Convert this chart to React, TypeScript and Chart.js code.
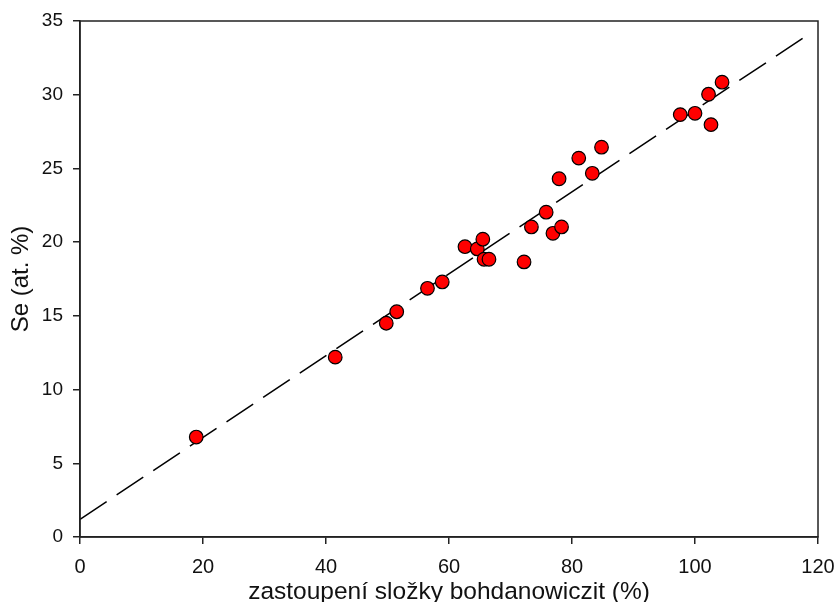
import React, { useEffect, useRef } from "react";
import { Chart, registerables } from "chart.js";

Chart.register(...registerables);

const bohdanowiczit: number[] = [18.9, 41.5, 49.8, 51.5, 56.5, 58.9, 62.6, 64.6, 65.5, 65.7, 66.5, 72.2, 73.4, 75.8, 76.9, 78.3, 77.9, 81.1, 83.3, 84.8, 97.6, 100.0, 102.2, 102.6, 104.4];
const selen: number[] = [6.78, 12.2, 14.5, 15.28, 16.87, 17.3, 19.69, 19.54, 20.2, 18.84, 18.84, 18.66, 21.03, 22.03, 20.6, 21.03, 24.3, 25.7, 24.67, 26.44, 28.65, 28.74, 30.03, 27.97, 30.85];
const fitX: number[] = [0, 118.5];
const fitY: number[] = [1.2, 34.1];
const xTicks: number[] = [0, 20, 40, 60, 80, 100, 120];
const yTicks: number[] = [0, 5, 10, 15, 20, 25, 30, 35];
const xTitle = "zastoupení složky bohdanowiczit (%)";
const yTitle = "Se (at. %)";

const FONT = "'Liberation Sans', Arial, sans-serif";

const frame = {
  id: "frame",
  afterDatasetsDraw(chart: any) {
    const { ctx, chartArea } = chart;
    ctx.save();
    ctx.strokeStyle = "#222";
    ctx.lineWidth = 1.5;
    ctx.strokeRect(chartArea.left, chartArea.top, chartArea.right - chartArea.left, chartArea.bottom - chartArea.top);
    ctx.restore();
  },
};

export default function App() {
  const ref = useRef<HTMLCanvasElement>(null);
  useEffect(() => {
    if (!ref.current) return;
    const chart = new Chart(ref.current, {
      type: "scatter",
      data: {
        datasets: [
          {
            label: "data",
            data: bohdanowiczit.map((x, i) => ({ x, y: selen[i] })),
            backgroundColor: "#ff0000",
            borderColor: "#000",
            borderWidth: 1.2,
            pointRadius: 6.8,
            pointHoverRadius: 6.8,
          },
          {
            type: "line",
            label: "fit",
            data: fitX.map((x, i) => ({ x, y: fitY[i] })),
            borderColor: "#000",
            borderWidth: 1.5,
            borderDash: [32, 12],
            pointRadius: 0,
            fill: false,
          } as any,
        ],
      },
      options: {
        animation: false,
        responsive: false,
        events: [],
        layout: { padding: { left: 0, right: 19, top: 21, bottom: 0 } },
        plugins: { legend: { display: false }, tooltip: { enabled: false } },
        scales: {
          x: {
            type: "linear",
            min: 0,
            max: 120,
            afterFit: (s: any) => { s.height = 65; s.paddingLeft = 0; s.paddingRight = 0; },
            afterBuildTicks: (s: any) => { s.ticks = xTicks.map((v) => ({ value: v })); },
            grid: { drawOnChartArea: false, drawTicks: true, tickLength: 7, color: "#222", lineWidth: 1.5 },
            border: { display: true, color: "#222", width: 1.5 },
            ticks: { color: "#111", font: { family: FONT, size: 20 }, padding: 11, maxRotation: 0 },
            title: { display: true, text: xTitle, color: "#111", font: { family: FONT, size: 24.5, lineHeight: 0.8 }, padding: { top: 0, bottom: 0 } },
          },
          y: {
            type: "linear",
            min: 0,
            max: 35,
            afterFit: (s: any) => { s.width = 80; s.paddingTop = 0; s.paddingBottom = 0; },
            afterBuildTicks: (s: any) => { s.ticks = yTicks.map((v) => ({ value: v })); },
            grid: { drawOnChartArea: false, drawTicks: true, tickLength: 7, color: "#222", lineWidth: 1.5 },
            border: { display: true, color: "#222", width: 1.5 },
            ticks: { color: "#111", font: { family: FONT, size: 19 }, padding: 10 },
            title: { display: true, text: yTitle, color: "#111", font: { family: FONT, size: 24 }, padding: { top: 7, bottom: 0 } },
          },
        },
      },
      plugins: [frame],
    });
    return () => chart.destroy();
  }, []);
  return (
    <div style={{ position: "fixed", left: 0, top: 0, width: 837, height: 602, background: "#fff" }}>
      <canvas ref={ref} width={837} height={602} />
    </div>
  );
}
